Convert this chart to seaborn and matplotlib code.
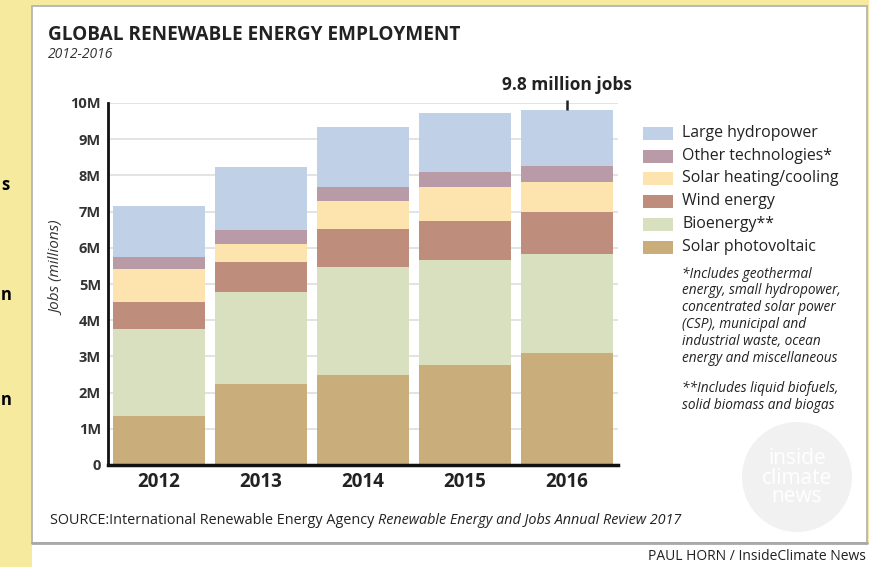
import matplotlib
matplotlib.use('Agg')
import matplotlib.pyplot as plt
import seaborn as sns
import pandas as pd
from matplotlib.patches import Rectangle, Circle
from matplotlib.lines import Line2D

years = ['2012', '2013', '2014', '2015', '2016']
solar_pv = [1.36, 2.24, 2.49, 2.77, 3.09]
bioenergy = [2.40, 2.54, 2.98, 2.88, 2.74]
wind = [0.74, 0.82, 1.05, 1.09, 1.16]
solar_heat = [0.91, 0.50, 0.77, 0.94, 0.83]
other = [0.34, 0.39, 0.39, 0.41, 0.44]
hydro = [1.40, 1.74, 1.66, 1.63, 1.55]

labels = ['Large hydropower', 'Other technologies*', 'Solar heating/cooling',
          'Wind energy', 'Bioenergy**', 'Solar photovoltaic']
colors = ['#c0d0e6', '#b89ba6', '#fde4ae', '#be8d7b', '#d9e0c0', '#c9ad7a']
yticks = [0, 1, 2, 3, 4, 5, 6, 7, 8, 9, 10]
ytick_labels = ['0', '1M', '2M', '3M', '4M', '5M', '6M', '7M', '8M', '9M', '10M']
footnote1 = ['*Includes geothermal', 'energy, small hydropower,', 'concentrated solar power',
             '(CSP), municipal and', 'industrial waste, ocean', 'energy and miscellaneous']
footnote2 = ['**Includes liquid biofuels,', 'solid biomass and biogas']

sns.set_style('white')
plt.rcParams['font.family'] = ['Open Sans', 'DejaVu Sans']

W, H = 869, 567
fig = plt.figure(figsize=(W / 100, H / 100), dpi=100, facecolor='#f6ea9f')

def fx(x):
    return x / W

def fy(y):
    return 1 - y / H

# white card + bottom strip
fig.add_artist(Rectangle((fx(32), fy(543)), fx(867) - fx(32), fy(6) - fy(543),
                         transform=fig.transFigure, facecolor='white',
                         edgecolor='#b5b5b5', lw=1.3, zorder=0))
fig.add_artist(Rectangle((fx(32), 0), 1 - fx(32), fy(544), transform=fig.transFigure,
                         facecolor='white', edgecolor='none', zorder=0))
fig.add_artist(Line2D([fx(32), fx(867)], [fy(543), fy(543)], transform=fig.transFigure,
                      color='#a8a8a8', lw=2, zorder=1))

# letter fragments on the yellow strip
for yy, ch in [(185, 's'), (295, 'n'), (400, 'n')]:
    fig.text(fx(1), fy(yy), ch, ha='left', va='center', fontsize=12,
             fontweight='bold', color='black')

ax = fig.add_axes([fx(108), fy(465), fx(618) - fx(108), fy(103) - fy(465)])
ax.set_facecolor('none')

df = pd.DataFrame({'year': years, 'pv': solar_pv, 'bio': bioenergy, 'wind': wind,
                   'shc': solar_heat, 'other': other, 'hydro': hydro})
layers = ['pv', 'bio', 'wind', 'shc', 'other', 'hydro']
cum = df[layers].cumsum(axis=1)
# draw tallest stack first, then overdraw lower layers
for key, col in zip(layers[::-1], colors):
    sns.barplot(x=df['year'], y=cum[key], color=col, saturation=1, width=0.9,
                errorbar=None, ax=ax, zorder=2, linewidth=0)

ax.set_xlim(-0.5, 4.5)
ax.set_ylim(0, 10)
ax.set_yticks(yticks)
ax.set_yticklabels(ytick_labels, fontsize=10.5, fontweight='bold', color='#333333')
ax.set_xticks(range(len(years)))
ax.set_xticklabels(years, fontsize=13.5, fontweight='bold', color='#222222')
ax.tick_params(axis='y', length=0, pad=5)
ax.tick_params(axis='x', length=0, pad=5)
ax.set_xlabel('')
ax.set_ylabel('Jobs (millions)', fontsize=11, fontstyle='italic', color='#333333')
ax.yaxis.set_label_coords(-0.084, 0.544)
ax.yaxis.grid(True, color='#e0e0e0', lw=1.3, zorder=0)
ax.set_axisbelow(True)
for s in ['top', 'right']:
    ax.spines[s].set_visible(False)
ax.spines['left'].set_color('#111111')
ax.spines['left'].set_linewidth(2)
ax.spines['bottom'].set_color('#111111')
ax.spines['bottom'].set_linewidth(2.5)

total_2016 = cum['hydro'].iloc[-1]
ax.vlines(4, total_2016, total_2016 + 0.28, color='#222222', lw=1.8, clip_on=False, zorder=3)
ax.text(4, 10.5, '9.8 million jobs', ha='center', va='center', fontsize=12.5,
        fontweight='bold', color='#222222')

# title
fig.text(fx(48), fy(35), 'GLOBAL RENEWABLE ENERGY EMPLOYMENT', fontsize=13.7,
         fontweight='bold', color='#222222', va='center')
fig.text(fx(48), fy(54), '2012-2016', fontsize=10, fontstyle='italic',
         color='#333333', va='center')

# legend
row_y = [133, 156, 178, 201, 224, 247]
for yy, lab, col in zip(row_y, labels, colors):
    fig.add_artist(Rectangle((fx(643), fy(yy + 7)), fx(30), 13 / H,
                             transform=fig.transFigure, facecolor=col, edgecolor='none'))
    fig.text(fx(682), fy(yy), lab, fontsize=11.4, color='#222222', va='center')

for i, line in enumerate(footnote1):
    fig.text(fx(682), fy(274 + i * 16.8), line, fontsize=9.8, fontstyle='italic',
             color='#222222', va='center')
for i, line in enumerate(footnote2):
    fig.text(fx(682), fy(389 + i * 16.8), line, fontsize=9.8, fontstyle='italic',
             color='#222222', va='center')

# watermark
fig.add_artist(Circle((7.97, (H - 477) / 100), 0.55, transform=fig.dpi_scale_trans,
                      facecolor='#f1f1f1', edgecolor='none'))
for yy, word in [(459, 'inside'), (478, 'climate'), (497, 'news')]:
    fig.text(fx(797), fy(yy), word, fontsize=15, color='white', ha='center', va='center')

# source line, regular + italic parts
src1 = fig.text(fx(50), fy(521), 'SOURCE:International Renewable Energy Agency ',
                fontsize=10.4, color='#222222', va='center')
fig.canvas.draw()
bb = src1.get_window_extent(renderer=fig.canvas.get_renderer())
fig.text(bb.x1 / (fig.dpi * fig.get_figwidth()), fy(521),
         'Renewable Energy and Jobs Annual Review 2017', fontsize=10.4,
         fontstyle='italic', color='#222222', va='center')

fig.text(fx(866), fy(557), 'PAUL HORN / InsideClimate News', fontsize=10,
         color='#222222', ha='right', va='center')

fig.savefig('out.png', dpi=100, facecolor=fig.get_facecolor())
